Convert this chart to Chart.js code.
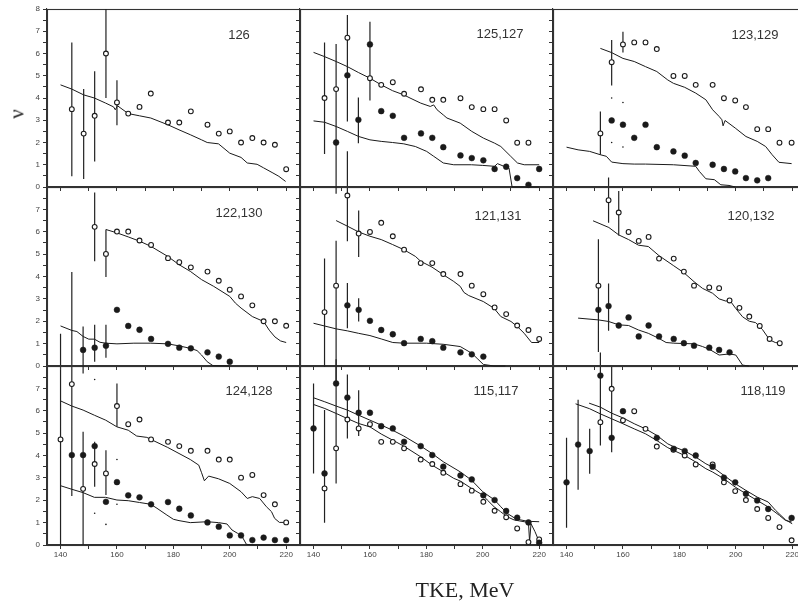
<!DOCTYPE html>
<html><head><meta charset="utf-8">
<script src="https://cdn.jsdelivr.net/npm/chart.js@4.4.1/dist/chart.umd.min.js"></script>
<style>
html,body{margin:0;padding:0;background:#fff;overflow:hidden;width:798px;height:605px;}
#wrap{position:relative;width:798px;height:605px;overflow:hidden;background:#fff;}
canvas{position:absolute;}
.lab{position:absolute;font-family:"Liberation Sans",Arial,sans-serif;font-size:13px;color:#333;line-height:1;transform:translate(-50%,-50%);white-space:nowrap;}
.ttl{position:absolute;font-family:"Liberation Serif","Times New Roman",serif;color:#222;line-height:1;white-space:nowrap;}
</style></head>
<body><div id="wrap">
<div class="lab" style="left:239px;top:34px">126</div>
<div class="lab" style="left:500px;top:33px">125,127</div>
<div class="lab" style="left:755px;top:34px">123,129</div>
<div class="lab" style="left:239px;top:212px">122,130</div>
<div class="lab" style="left:498px;top:215px">121,131</div>
<div class="lab" style="left:751px;top:215px">120,132</div>
<div class="lab" style="left:249px;top:390px">124,128</div>
<div class="lab" style="left:496px;top:390px">115,117</div>
<div class="lab" style="left:763px;top:390px">118,119</div>
<div class="ttl" style="left:17px;top:114px;font-size:21px;transform:translate(-50%,-50%) rotate(-90deg)">ν</div>
<div class="ttl" style="left:465px;top:579px;font-size:22px;transform:translateX(-50%)">TKE, MeV</div>
</div>
<script>
// ---------- data (TKE in MeV, nu values) ----------
const xTicks = [140,150,160,170,180,190,200,210,220];
const yTicks = [0,0.5,1,1.5,2,2.5,3,3.5,4,4.5,5,5.5,6,6.5,7,7.5,8];
const panelLabels = ['126','125,127','123,129','122,130','121,131','120,132','124,128','115,117','118,119'];

// 126
const open126 = [[144,3.5],[148.2,2.4],[152.1,3.2],[156.1,6.0],[160,3.8],[164,3.3],[168,3.6],[172,4.2],[178.1,2.9],[182.1,2.9],[186.2,3.4],[192.1,2.8],[196.1,2.4],[200,2.5],[204,2.0],[208,2.2],[212,2.0],[216,1.9],[220,0.8]];
const err126 = [[144,0.48,6.5],[148.2,0.36,4.4],[152.1,1.15,5.2],[156.1,4.0,8.0],[160,2.77,4.8]];
const line126 = [[140,4.59],[144,4.4],[148.2,4.14],[152,4.0],[156,3.77],[158.8,3.6],[159.4,3.47],[160.2,3.65],[164,3.3],[168,3.2],[172,3.1],[178,2.8],[182,2.57],[186,2.35],[190,2.12],[192,2.0],[196,1.94],[200,1.52],[204,1.33],[206.2,1.08],[209.7,1.02],[212,0.86],[215.3,0.63],[217.4,0.48],[219.8,0.25]];

// 125,127
const open125 = [[143.9,4.0],[148,4.4],[152,6.71],[160,4.89],[164,4.59],[168.1,4.71],[172.1,4.19],[178.1,4.39],[182.1,3.92],[186,3.92],[192.1,3.99],[196.1,3.59],[200.2,3.5],[204.2,3.5],[208.3,2.99],[212.2,1.99],[216.2,1.99]];
const filled125 = [[148,2.0],[152,5.02],[155.9,3.02],[160,6.41],[164,3.41],[168.1,3.2],[172.1,2.21],[178.1,2.41],[182.1,2.21],[186,1.79],[192.1,1.42],[196.1,1.3],[200.2,1.2],[204.2,0.81],[208.3,0.91],[212.2,0.4],[216.2,0.1],[220,0.81]];
const err125 = [[143.9,1.48,6.5],[148,-0.3,6.43],[152,2.94,7.73],[155.9,1.97,4.02],[160,3.89,7.43]];
const lineA125 = [[140,6.05],[143.9,5.86],[148,5.64],[152,5.41],[156,5.14],[160,4.89],[164,4.59],[168,4.33],[172,4.14],[174.2,4.0],[178,3.77],[181.4,3.62],[182.6,3.69],[183.8,3.47],[186,3.24],[187.3,3.1],[192,2.87],[196.1,2.5],[200.2,2.2],[204.2,1.97],[206.4,1.82],[209.9,1.38],[212.3,1.08],[214.7,1.0],[220,1.0]];
const lineB125 = [[140,2.97],[143.9,2.91],[148,2.72],[152,2.5],[156,2.27],[160,2.12],[164,2.05],[168,2.0],[172,1.94],[176.1,1.82],[180.1,1.6],[182.6,1.38],[186,1.08],[189.7,1.0],[196,1.0],[200,0.97],[204.2,0.93],[205.2,1.05],[207.5,0.93],[209.3,0.85],[210.4,0],[220,0]];

// 123,129
const open123 = [[152,2.41],[156,5.61],[160,6.41],[164,6.5],[168,6.5],[172,6.2],[177.9,4.99],[181.9,4.99],[185.8,4.59],[191.8,4.59],[195.8,3.99],[199.8,3.89],[203.6,3.59],[207.6,2.6],[211.5,2.6],[215.5,1.99],[219.8,1.99]];
const filled123 = [[156,2.99],[160,2.8],[164,2.21],[168,2.8],[172,1.79],[177.9,1.6],[181.9,1.41],[185.8,1.08],[191.8,1.0],[195.8,0.81],[199.8,0.7],[203.6,0.4],[207.6,0.3],[211.5,0.4]];
const err123 = [[152,1.45,3.39],[156,4.56,6.61],[160,6.05,6.98]];
const dots123 = [[156,4.0],[160,3.8],[156,2.0],[160,1.8]];
const lineA123 = [[152,6.23],[156,6.04],[160,5.78],[164,5.64],[168,5.41],[172,5.19],[175.9,4.81],[177.9,4.66],[181.9,4.48],[185.8,4.22],[189.4,3.92],[191.8,3.47],[194.1,3.17],[195.1,3.02],[195.5,2.75],[196.2,2.99],[199.8,2.65],[203.6,2.27],[207.6,2.05],[210.6,1.82],[212.9,1.45],[215.3,1.11],[219.8,1.05]];
const lineB123 = [[140,1.79],[144.1,1.67],[148.2,1.6],[152,1.45],[154.1,1.38],[156,1.12],[160,1.05],[164,1.03],[168,1.03],[177.9,1.0],[185.8,0.93],[187.1,0.7],[189.4,0.37],[192.4,0.33],[194.7,0.1],[197.6,0.07],[199.8,0]];

// 122,130
const open122 = [[152.1,6.22],[156.1,5.01],[160,6.01],[164,6.01],[168,5.61],[172.1,5.41],[178.1,4.82],[182.1,4.64],[186.2,4.41],[192.1,4.22],[196.1,3.81],[200,3.41],[204,3.11],[208,2.71],[212,2.0],[216,2.0],[220,1.8]];
const filled122 = [[148,0.72],[152.1,0.82],[156.1,0.91],[160,2.51],[164,1.79],[168,1.62],[172.1,1.21],[178.1,0.99],[182.1,0.82],[186.2,0.79],[192.1,0.61],[196.1,0.42],[200,0.19]];
const err122 = [[152.1,4.68,7.75],[156.1,3.98,6.1],[148,-0.33,1.76],[152.1,0.19,1.84],[156.1,0.37,1.84]];
const lineA122 = [[156.1,6.1],[160,5.95],[164,5.77],[168,5.58],[172,5.35],[178,4.9],[182,4.53],[186,4.23],[190,3.86],[194.3,3.56],[200,3.11],[202,2.81],[204,2.59],[208,2.21],[212,1.99],[214,1.6],[216,1.3],[218,1.12],[220,1.05]];
const lineB122 = [[140,1.79],[144,1.59],[145.8,1.54],[148,1.32],[150,1.2],[152,1.2],[154,1.06],[156,1.02],[160,0.99],[166,1.02],[172,1.02],[178,0.99],[182,0.9],[186,0.79],[188.4,0.69],[190,0.49],[192,0.19],[194,0.02],[200,0]];

// 121,131
const open121 = [[143.9,2.41],[148,3.59],[152,7.62],[156,5.92],[160,5.99],[164,6.4],[168.1,5.8],[172.1,5.2],[178,4.6],[182.1,4.6],[186,4.11],[192.1,4.11],[196.1,3.59],[200.2,3.21],[204.2,2.62],[208.3,2.32],[212.2,1.81],[216.2,1.61],[220,1.21]];
const filled121 = [[152,2.71],[156,2.51],[160,2.02],[164,1.61],[168.1,1.42],[172.1,1.02],[178,1.21],[182.1,1.11],[186,0.82],[192.1,0.61],[196.1,0.52],[200.2,0.42]];
const err121 = [[143.9,-0.05,4.8],[148,-0.7,5.6],[152,5.57,9.6],[156,4.87,6.95],[152,1.69,3.71],[156,1.99,3.03]];
const lineA121 = [[148,6.5],[152,6.25],[156,5.99],[160,5.8],[164,5.65],[168,5.43],[172,5.2],[176.1,4.9],[178,4.68],[182,4.42],[186,4.08],[189.7,3.78],[192,3.56],[193.3,3.29],[195,3.15],[200.2,2.88],[204,2.58],[206.4,2.21],[210,1.99],[212.3,1.76],[214.7,1.46],[217.3,1.05],[220,1.05]];
const lineB121 = [[140,1.91],[148,1.66],[152,1.57],[156,1.46],[160,1.36],[164,1.21],[168.1,1.05],[172,1.02],[180,1.02],[186,0.97],[192,0.87],[196.1,0.57],[198,0.34],[200.2,0.07],[204,0],[208,0]];

// 120,132
const open120 = [[151.3,3.59],[154.9,7.41],[158.5,6.86],[162,5.99],[165.6,5.59],[169.1,5.77],[172.8,4.8],[178,4.8],[181.6,4.22],[185.2,3.59],[190.6,3.51],[194.1,3.48],[197.8,2.93],[201.3,2.6],[204.8,2.21],[208.5,1.79],[212,1.21],[215.6,1.02]];
const filled120 = [[151.3,2.51],[154.9,2.68],[158.5,1.81],[162,2.17],[165.6,1.32],[169.1,1.81],[172.8,1.32],[178,1.21],[181.6,1.02],[185.2,0.91],[190.6,0.82],[194.1,0.72],[197.8,0.61]];
const err120 = [[151.3,0.63,5.67],[154.9,6.4,8.43],[158.5,5.83,7.82],[154.9,1.58,3.69]];
const lineA120 = [[149.4,6.49],[155,6.19],[158.5,5.86],[162,5.65],[165.5,5.4],[169,5.34],[172.8,4.93],[178,4.48],[181.6,4.17],[185.2,3.77],[188.2,3.47],[191.8,3.25],[194.1,3.0],[196.5,2.9],[197.8,2.95],[200,2.57],[202.4,2.2],[204.8,2.0],[207,1.94],[209.4,1.64],[212,1.17],[214,1.05],[215.6,1.02]];
const lineB120 = [[144.1,2.14],[151.3,2.06],[154.9,1.99],[158.5,1.84],[162,1.81],[165.5,1.61],[169,1.46],[172.8,1.23],[175.3,1.05],[178,1.02],[185.2,0.99],[188.2,0.87],[190.6,0.75],[194.1,0.49],[197.8,0.54],[200,0.49],[202.4,0.04],[204.7,0]];

// 124,128
const open124 = [[140,4.72],[144,7.19],[148,2.51],[152.1,3.62],[156.1,3.2],[160,6.21],[164,5.4],[168,5.61],[172.1,4.72],[178.1,4.61],[182.1,4.42],[186.2,4.21],[192.1,4.21],[196.1,3.82],[200,3.82],[204,3.01],[208,3.13],[212,2.23],[216,1.82],[220,1.01]];
const filled124 = [[144,4.02],[148,4.02],[152.1,4.42],[156.1,1.93],[160,2.81],[164,2.22],[168,2.13],[172.1,1.82],[178.1,1.92],[182.1,1.62],[186.2,1.32],[192.1,1.01],[196.1,0.82],[200,0.43],[204,0.43],[208,0.22],[212,0.33],[216,0.22],[220,0.22]];
const err124 = [[140,0,9.44],[144,2.19,12.2],[148,0,5.06],[152.1,2.6,4.61],[156.1,2.23,4.24],[160,5.28,7.22]];
const dots124 = [[152.1,7.4],[160,3.82],[160,1.82],[152.1,1.42],[156.1,0.92]];
const lineA124 = [[140,6.44],[144,6.21],[148,6.03],[152,5.8],[156,5.58],[160,5.28],[164,5.13],[167,4.87],[170.6,4.81],[172,4.72],[178,4.36],[182,4.09],[186,3.82],[189,3.57],[190,3.23],[191,2.87],[192.5,3.08],[196,2.96],[200,2.75],[204,2.38],[206.2,2.08],[208,2.16],[210.6,2.08],[213,1.71],[214.8,1.49],[215.9,1.19],[217.6,1.01],[220,1.01]];
const lineB124 = [[140,2.65],[144,2.49],[148,2.34],[152,2.13],[156,2.13],[160,2.01],[164,1.98],[168,1.9],[172,1.82],[174.2,1.64],[177.7,1.34],[180,1.15],[182,1.09],[186,1.0],[192,1.04],[196,1.0],[199,0.94],[200.8,0.67],[202.8,0.52],[204.4,0.37],[205.9,0.03],[208.5,0],[220,0]];

// 115,117
const filled115 = [[140,5.21],[143.9,3.2],[148,7.22],[152,6.59],[156,5.91],[160,5.91],[164,5.31],[168.1,5.21],[172.1,4.61],[178,4.42],[182.1,4.02],[186,3.5],[192.1,3.11],[196.1,2.93],[200.2,2.22],[204.2,2.01],[208.3,1.52],[212.2,1.22],[216.2,1.01],[220,0.1]];
const open115 = [[143.9,2.53],[148,4.32],[152,5.61],[156,5.21],[160,5.4],[164,4.61],[168.1,4.61],[172.1,4.32],[178,3.82],[182.1,3.62],[186,3.23],[192.1,2.72],[196.1,2.43],[200.2,1.93],[204.2,1.53],[208.3,1.24],[212.2,0.74],[216.2,0.13],[220,0.25]];
const err115 = [[140,3.2,7.22],[143.9,1.0,6.03],[148,2.75,8.3],[152,4.76,7.62],[156,4.87,6.92]];
const lineA115 = [[140,6.58],[144,6.4],[148,6.21],[152,6.03],[156,5.8],[160,5.58],[164,5.36],[168,5.13],[172,4.87],[178,4.42],[182,4.09],[186,3.72],[192,3.27],[196,2.9],[200,2.38],[204.2,2.01],[206.4,1.71],[208.7,1.41],[211.1,1.22],[213.5,1.12],[215.9,1.06],[220,1.04]];
const lineB115 = [[140,6.28],[144,6.1],[148,5.88],[152,5.65],[156,5.43],[160,5.28],[164,4.96],[168,4.69],[172,4.42],[178,3.94],[182,3.57],[186,3.27],[189.7,2.98],[192,2.86],[196,2.53],[200,2.23],[201.6,2.01],[204,1.71],[206.3,1.49],[208.7,1.26],[211.1,1.12],[214.7,1.04],[216.2,1.0],[216.6,0.15],[217.1,0.95],[218.5,0.6],[220,0.15]];

// 118,119
const filled118 = [[140,2.8],[144.1,4.49],[148.2,4.2],[152,7.57],[156,4.79],[160,5.98],[172,4.79],[178,4.3],[181.9,4.2],[185.8,4.0],[191.8,3.5],[195.8,3.01],[199.8,2.8],[203.6,2.29],[207.6,1.99],[211.5,1.61],[219.8,1.21]];
const open118 = [[152,5.49],[156,6.98],[160,5.57],[164,5.98],[168,5.19],[172,4.4],[177.9,4.26],[181.9,4.0],[185.8,3.6],[191.8,3.6],[195.8,2.8],[199.8,2.41],[203.6,2.01],[207.6,1.61],[211.5,1.21],[215.5,0.8],[219.8,0.21]];
const err118 = [[140,0.77,4.79],[144.1,2.47,6.49],[148.2,3.18,5.19],[152,4.45,8.6],[156,4.15,7.95]];
const lineA118 = [[143.2,6.31],[148.2,6.09],[152,5.86],[156,5.64],[160,5.42],[164,5.19],[168,4.97],[172,4.67],[175.9,4.35],[177.9,4.23],[181.9,4.0],[185.8,3.71],[189.4,3.41],[191.8,3.26],[195.8,2.96],[199.8,2.59],[203.6,2.29],[207.6,1.99],[211.5,1.7],[215.5,1.32],[217.6,1.1],[219.8,1.03]];
const lineB118 = [[148,6.34],[152,6.16],[156,5.89],[160,5.68],[164,5.42],[168,5.19],[172,4.9],[175.9,4.52],[177.9,4.4],[181.9,4.2],[185.8,3.93],[189.4,3.63],[191.8,3.48],[195.8,3.11],[199.8,2.74],[203.6,2.44],[207.6,2.14],[211.5,1.92],[214.1,1.55],[217.6,1.13],[220,0.95]];

// ---------- layout ----------
const panels = [
  {open:open126, filled:null, errs:err126, lines:[line126], dots:null},
  {open:open125, filled:filled125, errs:err125, lines:[lineA125,lineB125], dots:null},
  {open:open123, filled:filled123, errs:err123, lines:[lineA123,lineB123], dots:dots123},
  {open:open122, filled:filled122, errs:err122, lines:[lineA122,lineB122], dots:null},
  {open:open121, filled:filled121, errs:err121, lines:[lineA121,lineB121], dots:null},
  {open:open120, filled:filled120, errs:err120, lines:[lineA120,lineB120], dots:null},
  {open:open124, filled:filled124, errs:err124, lines:[lineA124,lineB124], dots:dots124},
  {open:open115, filled:filled115, errs:err115, lines:[lineA115,lineB115], dots:null},
  {open:open118, filled:filled118, errs:err118, lines:[lineA118,lineB118], dots:null}
];
const colLeft = [47, 300, 553], colW = 253;
const rowTop = [9, 187, 366], rowBot = [187, 366, 545];
const ML = 45, MR = 45, MT = 110, MB = 40;
const XMIN = 135.2, XMAX = 224.9;
const INK = '#1a1a1a', AXIS = '#333';

const toPts = a => a.map(p => ({x:p[0], y:p[1]}));
const toBars = a => { const out = []; a.forEach(e => { out.push({x:e[0], y:e[1]}, {x:e[0], y:e[2]}, {x:e[0], y:null}); }); return out; };

const frame = {
  id: 'frame',
  beforeDatasetsDraw(chart) {
    const {ctx, chartArea:a} = chart;
    ctx.save();
    ctx.strokeStyle = AXIS; ctx.lineWidth = 1.1;
    ctx.strokeRect(Math.round(a.left)+0.5, Math.round(a.top)+0.5, Math.round(a.right-a.left), Math.round(a.bottom-a.top));
    ctx.restore();
  }
};

const wrap = document.getElementById('wrap');
panels.forEach((p, i) => {
  const r = Math.floor(i / 3), c = i % 3;
  const pw = colW, ph = rowBot[r] - rowTop[r];
  const cv = document.createElement('canvas');
  const W = ML + pw + MR, H = MT + ph + MB;
  cv.width = W; cv.height = H;
  cv.style.left = (colLeft[c] - ML) + 'px';
  cv.style.top = (rowTop[r] - MT) + 'px';
  cv.style.width = W + 'px'; cv.style.height = H + 'px';
  wrap.insertBefore(cv, wrap.firstChild);

  const ds = [];
  if (p.filled) ds.push({data:toPts(p.filled), pointRadius:2.9, pointBackgroundColor:INK, pointBorderColor:INK, pointBorderWidth:0.5, showLine:false, clip:false});
  ds.push({data:toPts(p.open), pointRadius:2.4, pointBackgroundColor:'#fff', pointBorderColor:INK, pointBorderWidth:1.1, showLine:false, clip:false});
  if (p.dots) ds.push({data:toPts(p.dots), pointRadius:0.8, pointBackgroundColor:INK, pointBorderWidth:0, showLine:false, clip:false});
  ds.push({data:toBars(p.errs), showLine:true, spanGaps:false, pointRadius:0, borderColor:'#222', borderWidth:1.2, clip:false});
  p.lines.forEach(l => ds.push({data:toPts(l), showLine:true, pointRadius:0, borderColor:INK, borderWidth:1, tension:0, clip:false}));

  new Chart(cv, {
    type: 'scatter',
    data: {datasets: ds},
    plugins: [frame],
    options: {
      responsive: false, animation: false, events: [],
      layout: {padding: {left:0, top:MT, right:MR, bottom:0}},
      plugins: {legend:{display:false}, tooltip:{enabled:false}},
      scales: {
        x: {
          type:'linear', position:'bottom', min:XMIN, max:XMAX,
          afterBuildTicks: s => { s.ticks = xTicks.map(v => ({value:v})); },
          afterFit: s => { s.height = MB; },
          grid: {drawOnChartArea:false, drawTicks:true, tickLength:4, color:AXIS, lineWidth:1},
          border: {display:true, color:AXIS, width:1.1},
          ticks: {display: r === 2, autoSkip:false, maxRotation:0, padding:1, color:'#444',
                  font:{family:'"Liberation Sans", Arial, sans-serif', size:8},
                  callback: v => (v % 20 === 0 ? String(v) : '')}
        },
        y: {
          type:'linear', position:'left', min:0, max:8,
          afterBuildTicks: s => { s.ticks = yTicks.map(v => ({value:v})); },
          afterFit: s => { s.width = ML; },
          grid: {drawOnChartArea:false, drawTicks:true, tickLength:4, color:AXIS, lineWidth:1},
          border: {display:true, color:AXIS, width:1.1},
          ticks: {display: c === 0, autoSkip:false, padding:3, color:'#444',
                  font:{family:'"Liberation Sans", Arial, sans-serif', size:8},
                  callback: v => (Number.isInteger(v) && !(r > 0 && v === 8) ? String(v) : '')}
        }
      }
    }
  });
});
</script>
</body></html>
